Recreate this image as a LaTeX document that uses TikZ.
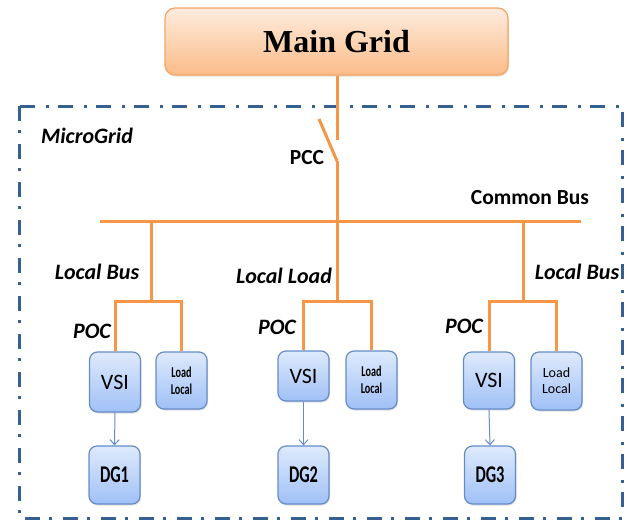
\documentclass[tikz,border=0pt]{standalone}
\usepackage{fontspec}
\setmainfont{Carlito}
\newfontfamily\gridfont{Liberation Serif}
\newfontfamily\condfont[FakeStretch=0.68]{Carlito}
\usetikzlibrary{arrows.meta,shadows}

\definecolor{busorange}{RGB}{247,150,70}
\definecolor{gridtop}{RGB}{254,236,222}
\definecolor{gridbottom}{RGB}{250,188,136}
\definecolor{gridborder}{RGB}{246,165,100}
\definecolor{boxtop}{RGB}{222,234,252}
\definecolor{boxbottom}{RGB}{160,192,246}
\definecolor{boxborder}{RGB}{100,140,200}
\definecolor{framecol}{RGB}{55,96,146}

\tikzset{
  bus/.style={line width=3pt, color=busorange},
  unitbox/.style={draw=boxborder, line width=1.2pt, rounded corners=8pt,
    top color=boxtop, bottom color=boxbottom, minimum width=51pt,
    inner sep=0pt, align=center,
    drop shadow={opacity=0.25, shadow xshift=1pt, shadow yshift=-1.5pt}},
  lbl/.style={font=\fontsize{21.5}{24}\selectfont\bfseries, inner sep=0pt},
  ilbl/.style={font=\fontsize{22}{24}\selectfont\bfseries\itshape, inner sep=0pt},
  feed/.style={draw=boxborder, line width=1pt, -{Straight Barb[length=5pt,width=9pt]}}
}

\begin{document}
\begin{tikzpicture}[x=1pt,y=-1pt]
  \useasboundingbox (0,0) rectangle (629,520);

  % MicroGrid frame
  \draw[color=framecol, line width=3pt, dash pattern=on 15pt off 9pt on 3pt off 11pt]
    (19,106) rectangle (622,518);
  \node[ilbl] (mgrid) at (87,136) {MicroGrid};

  % Main grid
  \node[draw=gridborder, line width=1.2pt, rounded corners=10pt,
        top color=gridtop, bottom color=gridbottom,
        minimum width=343pt, minimum height=67pt,
        drop shadow={opacity=0.25, shadow xshift=1pt, shadow yshift=-1.5pt},
        font=\gridfont\fontsize{32}{36}\selectfont\bfseries] (main) at (336.5,41.5) {Main Grid};

  % Switch (PCC)
  \coordinate (s1) at (337,140);
  \coordinate (s2) at (319,119);
  \coordinate (s3) at (337,161);
  \draw[bus] (main.south -| s1) -- (s1);
  \draw[bus] (s2) -- (s3);
  \node[lbl] (pcc) at (307,158) {PCC};

  % Common bus
  \coordinate (cb1) at (100,221);
  \coordinate (cb2) at (581,221);
  \draw[bus] (cb1) -- (cb2);
  \coordinate (t1) at (151,221);
  \coordinate (t2) at (337,221);
  \coordinate (t3) at (523,221);
  \draw[bus] (s3) -- (t2);
  \node[lbl] (cbus) at (530,198) {Common Bus};

  % Local buses
  \coordinate (b1) at (151,301);
  \coordinate (b2) at (337,301);
  \coordinate (b3) at (523,301);
  \node[ilbl] (lb1) at (97,272) {Local Bus};
  \node[ilbl] (ll2) at (284,276) {Local Load};
  \node[ilbl] (lb3) at (577,272) {Local Bus};

  % Inverters, loads and generators
  \node[unitbox, minimum height=60pt, font=\fontsize{22}{24}\selectfont] (vsi1) at (115,382) {VSI};
  \node[unitbox, minimum height=50pt, font=\fontsize{22}{24}\selectfont] (vsi2) at (303.5,376) {VSI};
  \node[unitbox, minimum height=57pt, font=\fontsize{22}{24}\selectfont] (vsi3) at (489,380.5) {VSI};

  \node[unitbox, minimum height=57pt, font=\condfont\fontsize{15}{17}\selectfont\bfseries] (ld1) at (181.5,380.5) {Load\\Local};
  \node[unitbox, minimum height=58pt, font=\condfont\fontsize{15}{17}\selectfont\bfseries] (ld2) at (371.5,380) {Load\\Local};
  \node[unitbox, minimum height=58pt, font=\fontsize{14}{16}\selectfont] (ld3) at (556.5,381) {Load\\Local};

  \node[unitbox, minimum height=58pt, font=\condfont\fontsize{24}{26}\selectfont\bfseries] (dg1) at (114.5,475) {DG1};
  \node[unitbox, minimum height=58pt, font=\condfont\fontsize{24}{26}\selectfont\bfseries] (dg2) at (303.5,475) {DG2};
  \node[unitbox, minimum height=58pt, font=\condfont\fontsize{24}{26}\selectfont\bfseries] (dg3) at (490,475) {DG3};

  % Feeders to the units
  \foreach \i in {1,2,3}{
    \draw[bus] (t\i) -- (b\i);
    \draw[bus] (vsi\i.north) |- (b\i) -| (ld\i.north);
    \draw[feed] (vsi\i.south) -- (dg\i.north);
  }

  % Points of connection
  \node[ilbl] (poc1) at (92,331) {POC};
  \node[ilbl] (poc2) at (277,327) {POC};
  \node[ilbl] (poc3) at (464,326) {POC};
\end{tikzpicture}
\end{document}
